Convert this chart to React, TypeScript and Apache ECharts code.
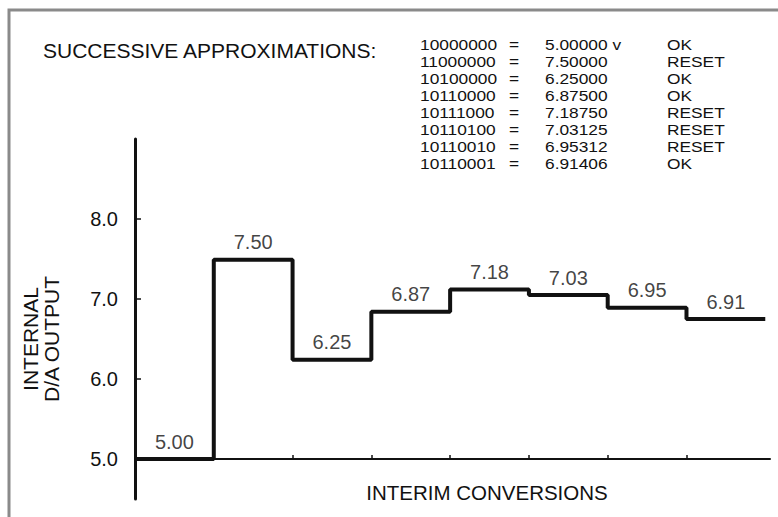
import React, { useEffect, useRef } from "react";
import * as echarts from "echarts";

const codes = ["10000000", "11000000", "10100000", "10110000", "10111000", "10110100", "10110010", "10110001"];
const voltages = ["5.00000", "7.50000", "6.25000", "6.87500", "7.18750", "7.03125", "6.95312", "6.91406"];
const statuses = ["OK", "RESET", "OK", "OK", "RESET", "RESET", "RESET", "OK"];
const stepLabels = ["5.00", "7.50", "6.25", "6.87", "7.18", "7.03", "6.95", "6.91"];
const stepLevels = [5.0, 7.49, 6.24, 6.84, 7.12, 7.05, 6.89, 6.75];
const yTickValues = [5, 6, 7, 8];
const xTickValues = [1, 2, 3, 4, 5, 6, 7];

const FONT = "'Liberation Sans', Arial, Helvetica, sans-serif";
const INK = "#111111";

export default function App() {
  const ref = useRef<HTMLDivElement>(null);

  useEffect(() => {
    if (!ref.current) return;
    const chart = echarts.init(ref.current, null, { renderer: "svg" });

    const lineData: number[][] = stepLevels.map((v, i) => [i, v]);
    lineData.push([stepLevels.length, stepLevels[stepLevels.length - 1]]);
    const labelData = stepLevels.map((v, i) => [i + 0.5, v]);

    const rowH = 17;
    const tableTop = 44.5 - rowH / 2;
    const colBase = { fontFamily: FONT, fontSize: 15.2, lineHeight: rowH, fill: INK, verticalAlign: "top" };
    const sx = 1.14;
    const tableTexts: any[] = [
      { type: "text", x: 420, y: tableTop, scaleX: sx, style: { ...colBase, text: codes.join("\n"), align: "left" } },
      { type: "text", x: 514, y: tableTop, scaleX: sx, style: { ...colBase, text: codes.map(() => "=").join("\n"), align: "center" } },
      {
        type: "text",
        x: 545,
        y: tableTop,
        scaleX: sx,
        style: { ...colBase, text: voltages.map((v, i) => v + (i === 0 ? " v" : "")).join("\n"), align: "left" },
      },
      { type: "text", x: 667, y: tableTop, scaleX: sx, style: { ...colBase, text: statuses.join("\n"), align: "left" } },
    ];

    chart.setOption({
      animation: false,
      backgroundColor: "#ffffff",
      grid: { left: 135, top: 139, right: 8, height: 360, containLabel: false },
      xAxis: {
        type: "value",
        min: 0,
        max: 8.06,
        offset: -40,
        axisLine: { show: true, lineStyle: { color: INK, width: 2 } },
        axisTick: { show: true, inside: true, length: 4, lineStyle: { color: INK, width: 1.5 }, customValues: xTickValues },
        axisLabel: { show: false },
        splitLine: { show: false },
      },
      yAxis: {
        type: "value",
        min: 4.5,
        max: 9,
        axisLine: { show: true, lineStyle: { color: INK, width: 3 } },
        axisTick: { show: true, inside: true, length: 6, lineStyle: { color: INK, width: 1.5 }, customValues: yTickValues },
        axisLabel: {
          show: true,
          customValues: yTickValues,
          margin: 17,
          fontFamily: FONT,
          fontSize: 20,
          color: INK,
          formatter: (v: number) => v.toFixed(1),
        },
        splitLine: { show: false },
      },
      series: [
        {
          type: "line",
          step: "end",
          data: lineData,
          symbol: "none",
          lineStyle: { color: INK, width: 4 },
          z: 3,
        },
        {
          type: "scatter",
          data: labelData,
          symbolSize: 1,
          itemStyle: { color: "rgba(0,0,0,0)" },
          label: {
            show: true,
            position: "top",
            distance: 7,
            fontFamily: FONT,
            fontSize: 20,
            color: INK,
            formatter: (p: any) => stepLabels[p.dataIndex],
          },
          silent: true,
        },
      ],
      graphic: [
        {
          type: "rect",
          shape: { x: 9, y: 10, width: 900, height: 700 },
          style: { fill: "none", stroke: "#8a8a8a", lineWidth: 3 },
          silent: true,
        },
        {
          type: "text",
          x: 43,
          y: 50,
          style: { text: "SUCCESSIVE APPROXIMATIONS:", fontFamily: FONT, fontSize: 21, fill: INK, align: "left", verticalAlign: "middle" },
        },
        ...tableTexts,
        {
          type: "text",
          x: 40.5,
          y: 339,
          rotation: Math.PI / 2,
          style: { text: "INTERNAL\nD/A OUTPUT", fontFamily: FONT, fontSize: 21, lineHeight: 21, fill: INK, align: "center", verticalAlign: "middle" },
        },
        {
          type: "text",
          x: 487,
          y: 492,
          style: { text: "INTERIM CONVERSIONS", fontFamily: FONT, fontSize: 20.5, fill: INK, align: "center", verticalAlign: "middle" },
        },
      ],
    });

    return () => chart.dispose();
  }, []);

  return <div ref={ref} style={{ position: "fixed", left: 0, top: 0, width: 778, height: 517, background: "#fff" }} />;
}
